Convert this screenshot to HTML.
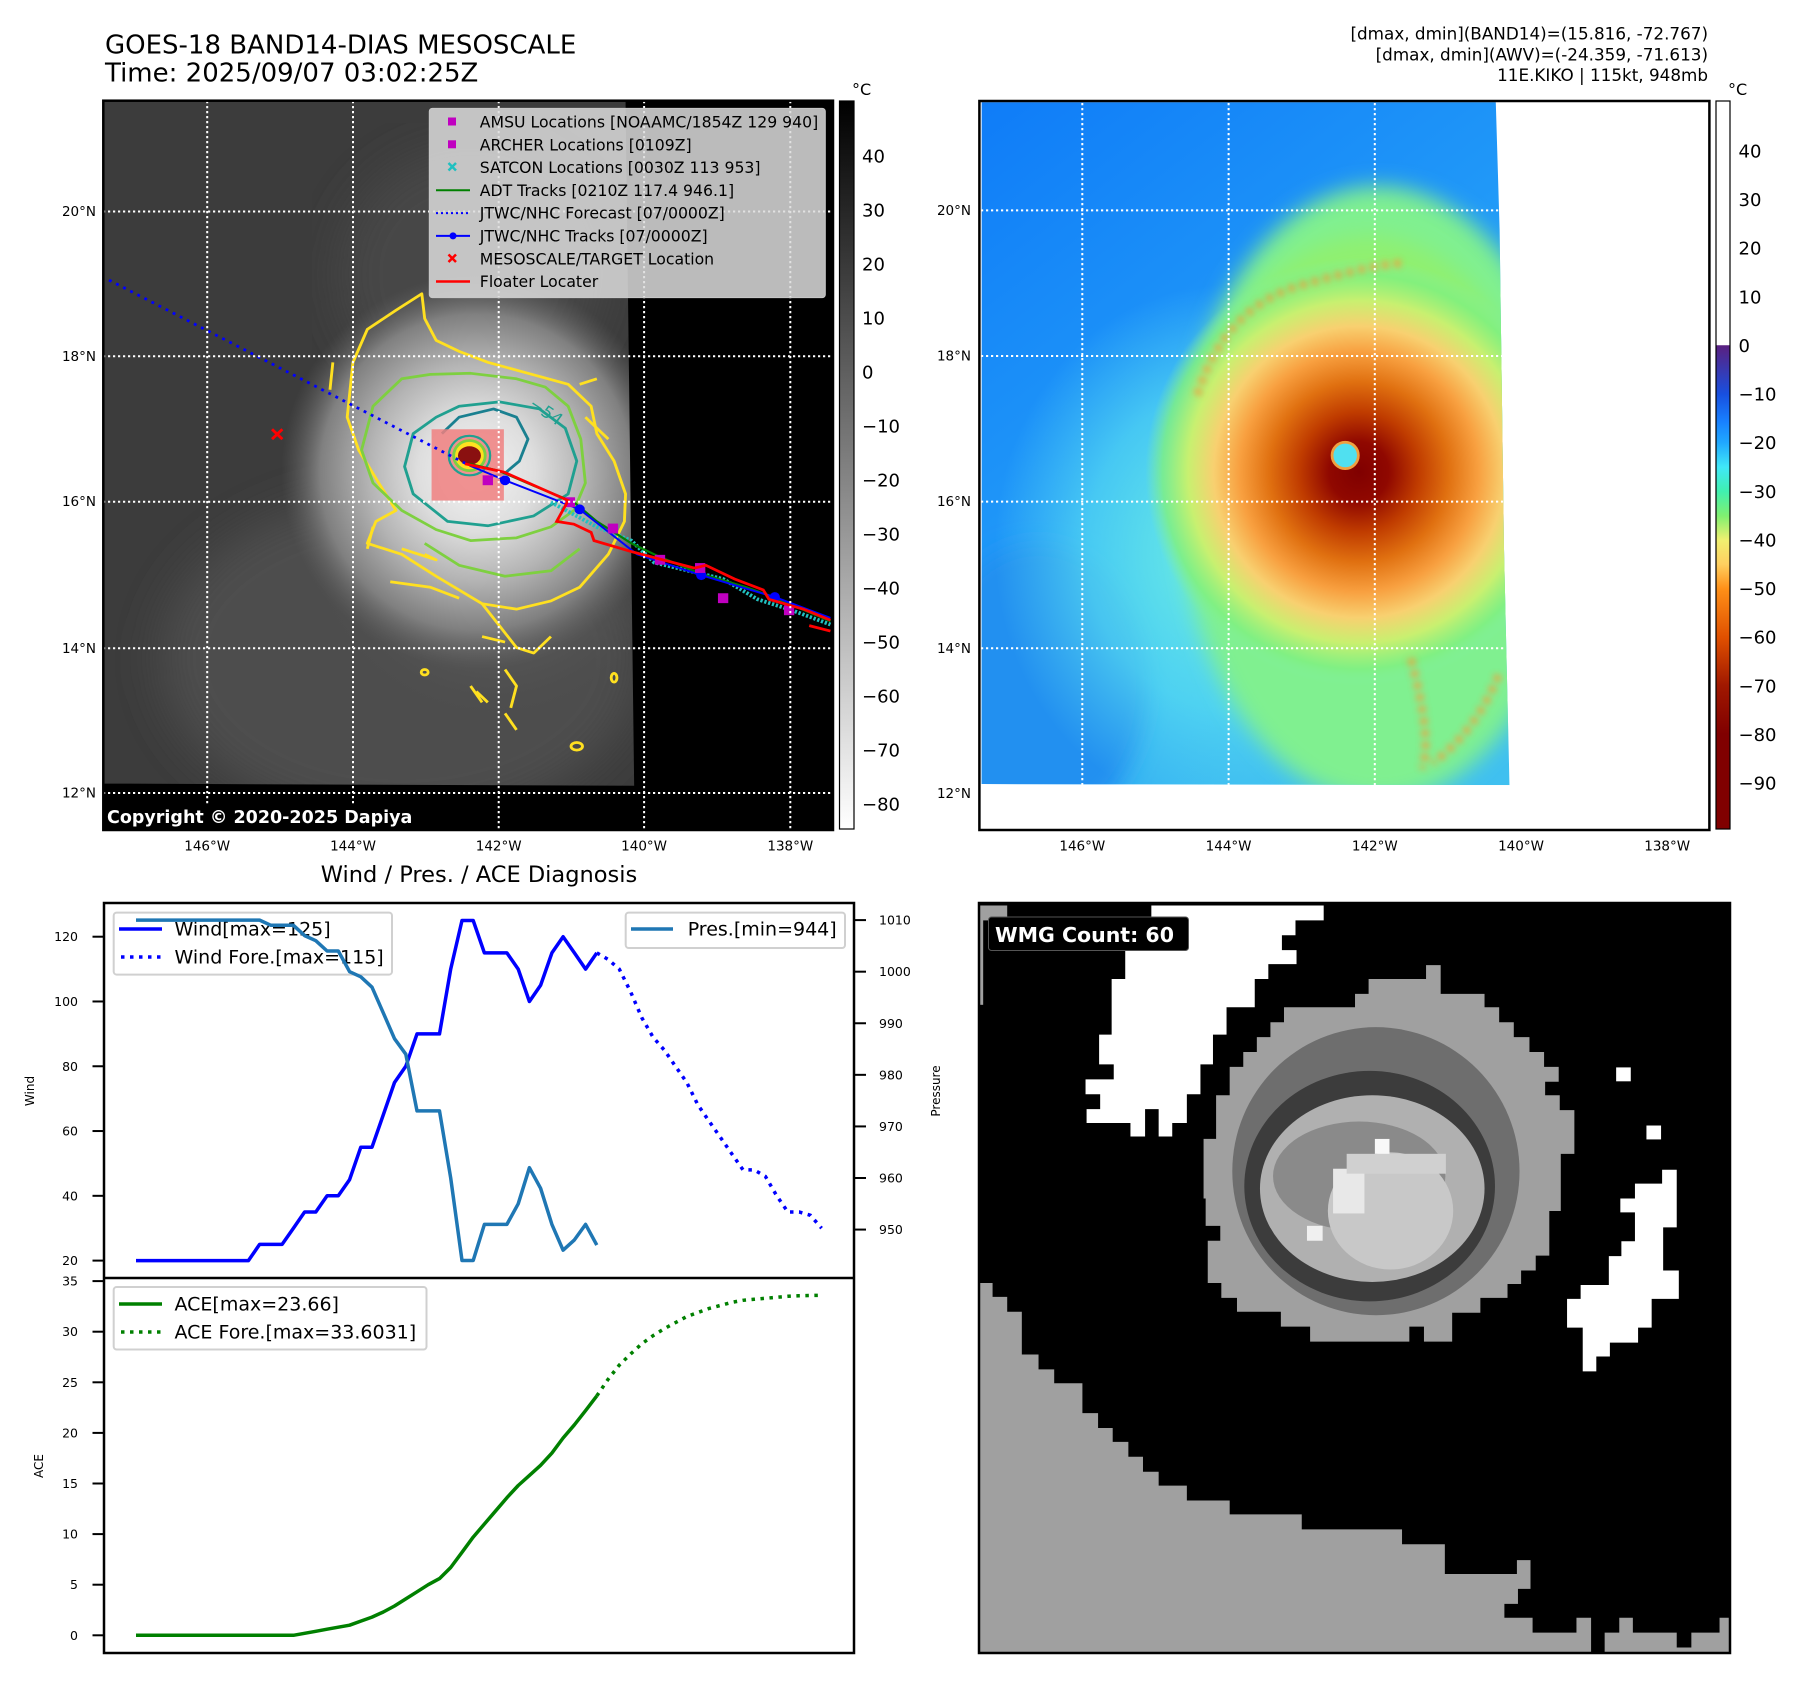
<!DOCTYPE html>
<html><head><meta charset="utf-8">
<style>
html,body{margin:0;padding:0;background:#fff;}
svg{display:block;font-family:"DejaVu Sans","Liberation Sans",sans-serif;}
</style></head>
<body>
<svg id="fig" width="1797" height="1690" viewBox="0 0 1797 1690" xmlns="http://www.w3.org/2000/svg">
<defs>
  <clipPath id="clip1"><rect x="180" y="183" width="1272" height="1329"/></clipPath>
  <clipPath id="clip2"><path d="M76,187 L1015,187 L1022,420 L1025,640 L1030,1000 L1040,1430 L76,1428 Z"/></clipPath>
  <radialGradient id="stormGray" cx="0.5" cy="0.5" r="0.5">
    <stop offset="0" stop-color="#f4f4f4"/>
    <stop offset="0.3" stop-color="#dedede"/>
    <stop offset="0.55" stop-color="#b4b4b4"/>
    <stop offset="0.8" stop-color="#808080"/>
    <stop offset="1" stop-color="#606060" stop-opacity="0"/>
  </radialGradient>
  <radialGradient id="stormGray2" cx="0.5" cy="0.5" r="0.5">
    <stop offset="0" stop-color="#7a7a7a"/>
    <stop offset="0.6" stop-color="#5e5e5e" stop-opacity="0.7"/>
    <stop offset="1" stop-color="#505050" stop-opacity="0"/>
  </radialGradient>
  <linearGradient id="cbGray" x1="0" y1="0" x2="0" y2="1">
    <stop offset="0" stop-color="#000"/>
    <stop offset="1" stop-color="#fff"/>
  </linearGradient>
  <linearGradient id="cbColor" x1="0" y1="0" x2="0" y2="1">
    <stop offset="0" stop-color="#ffffff"/>
    <stop offset="0.335" stop-color="#ffffff"/>
    <stop offset="0.336" stop-color="#5a2080"/>
    <stop offset="0.403" stop-color="#1850e0"/>
    <stop offset="0.44" stop-color="#1880ff"/>
    <stop offset="0.469" stop-color="#20a8ff"/>
    <stop offset="0.503" stop-color="#40e8f8"/>
    <stop offset="0.536" stop-color="#40f0b0"/>
    <stop offset="0.57" stop-color="#80f070"/>
    <stop offset="0.603" stop-color="#f0f070"/>
    <stop offset="0.636" stop-color="#ffd060"/>
    <stop offset="0.67" stop-color="#ff9018"/>
    <stop offset="0.737" stop-color="#e05000"/>
    <stop offset="0.803" stop-color="#a01800"/>
    <stop offset="0.87" stop-color="#800000"/>
    <stop offset="1" stop-color="#800000"/>
  </linearGradient>
  <linearGradient id="bgBlue" x1="0" y1="0" x2="0.6" y2="1">
    <stop offset="0" stop-color="#0f7cf8"/>
    <stop offset="0.5" stop-color="#2098f8"/>
    <stop offset="1" stop-color="#40c0f0"/>
  </linearGradient>
  <radialGradient id="cyanGlow" cx="0.5" cy="0.5" r="0.5">
    <stop offset="0" stop-color="#70f0e0"/>
    <stop offset="0.6" stop-color="#60e8f0" stop-opacity="0.6"/>
    <stop offset="1" stop-color="#60e0f0" stop-opacity="0"/>
  </radialGradient>
  <radialGradient id="stormColor" cx="0.5" cy="0.5" r="0.5">
    <stop offset="0" stop-color="#800000"/>
    <stop offset="0.14" stop-color="#900800"/>
    <stop offset="0.28" stop-color="#c03c00"/>
    <stop offset="0.42" stop-color="#e07010"/>
    <stop offset="0.56" stop-color="#f8a040"/>
    <stop offset="0.68" stop-color="#f8d070"/>
    <stop offset="0.8" stop-color="#c8f070"/>
    <stop offset="0.92" stop-color="#80f080" stop-opacity="0.8"/>
    <stop offset="1" stop-color="#80f0a0" stop-opacity="0"/>
  </radialGradient>
  <filter id="blur6"><feGaussianBlur stdDeviation="6"/></filter>
  <filter id="blur20"><feGaussianBlur stdDeviation="20"/></filter>
  <filter id="blur40"><feGaussianBlur stdDeviation="40"/></filter>
</defs>

<text x="105" y="53.5" font-size="26" fill="#000">GOES-18 BAND14-DIAS MESOSCALE</text>
<text x="105" y="81.5" font-size="26" fill="#000">Time: 2025/09/07 03:02:25Z</text>
<g font-size="16.8" text-anchor="end" fill="#000">
  <text x="1708" y="39.5">[dmax, dmin](BAND14)=(15.816, -72.767)</text>
  <text x="1708" y="60.5">[dmax, dmin](AWV)=(-24.359, -71.613)</text>
  <text x="1708" y="81">11E.KIKO | 115kt, 948mb</text>
</g>

<g>
  <g transform="translate(103.3,100.7) scale(0.5739,0.5485) translate(-180,-183)">
    <g clip-path="url(#clip1)">
      <rect x="180" y="183" width="1272" height="1329" fill="#3c3c3c"/>
      <ellipse cx="700" cy="1200" rx="420" ry="300" fill="#4e4e4e" filter="url(#blur40)"/>
      <ellipse cx="820" cy="500" rx="230" ry="230" fill="#474747" filter="url(#blur40)"/>
      <ellipse cx="860" cy="950" rx="330" ry="360" fill="url(#stormGray2)"/>
      <ellipse cx="830" cy="860" rx="340" ry="360" fill="url(#stormGray)"/>
      <path d="M1090,183 L1452,183 L1452,1512 L180,1512 L180,1428 L1105,1432 Z" fill="#000"/>
      <g fill="none" stroke-width="5" stroke-linejoin="round">
        <path d="M735,535 L690,565 L640,600 L615,660 L605,760 L625,820 L660,880 L690,930 L655,950 L640,990 L700,1010 L760,1050 L840,1100 L900,1110 L960,1095 L1010,1070 L1060,1010 L1088,950 L1090,900 L1070,840 L1040,790 L1030,740 L990,700 L920,680 L850,660 L800,640 L760,620 L740,580 Z" stroke="#ffe020"/>
        <path d="M840,1100 L870,1140 L900,1180 L930,1190 L960,1160 M880,1220 L900,1250 L890,1290 M830,1260 L850,1280 M1040,690 L1010,700 M1020,760 L1060,800 M580,660 L575,710 M650,960 L640,1000 M700,1000 L760,1020 L740,1010 M680,1060 L750,1070 L800,1090 M840,1160 L880,1170 M820,1250 L840,1280 M880,1300 L900,1330" stroke="#ffe020"/>
        <ellipse cx="1005" cy="1360" rx="10" ry="7" stroke="#ffe020"/>
        <ellipse cx="1070" cy="1235" rx="5" ry="8" stroke="#ffe020"/>
        <ellipse cx="740" cy="1225" rx="6" ry="5" stroke="#ffe020"/>
        <path d="M700,690 L650,740 L630,820 L650,880 L700,930 L760,965 L820,985 L900,980 L960,960 L1000,930 L1020,880 L1012,800 L990,740 L950,705 L900,690 L820,680 L750,682 Z" stroke="#7ed040"/>
        <path d="M740,990 L800,1030 L880,1050 L960,1040 L1010,1000" stroke="#7ed040"/>
        <path d="M720,790 L705,850 L720,900 L780,950 L850,958 L930,940 L990,900 L1005,840 L985,780 L940,745 L870,732 L800,740 L760,760 Z" stroke="#20a090"/>
        <path d="M770,790 L800,760 L860,745 L900,760 L920,800 L905,840 L880,862 L850,870" stroke="#1a8090"/>
      </g>
      <text x="920" y="740" font-size="30" fill="#20a090" transform="rotate(35 920 740)">−54</text>
      <rect x="752" y="782" width="126" height="130" fill="#f08080" opacity="0.85"/>
      <circle cx="818" cy="830" r="36" fill="none" stroke="#20a090" stroke-width="4"/>
      <circle cx="818" cy="830" r="30" fill="#7ed040"/>
      <circle cx="818" cy="830" r="25" fill="#ffe020"/>
      <ellipse cx="818" cy="830" rx="20" ry="17" fill="#8a1010"/>
      <path d="M190,510 L818,848" stroke="#0000ff" stroke-width="5" stroke-dasharray="5,9" fill="none"/>
      <g stroke="#ff0000" stroke-width="5"><path d="M474,782 L492,800 M492,782 L474,800"/></g>
      <path d="M960,915 L1040,960 L1100,985 L1140,1025 L1200,1040 L1260,1055 L1320,1092 L1380,1112 L1447,1138" fill="none" stroke="#20c0c0" stroke-width="7" stroke-dasharray="4,3"/>
      <path d="M818,845 L870,858 L930,885 L1000,915 L1040,950 L1100,990 L1150,1015 L1220,1045 L1300,1070 L1340,1085 L1447,1132" fill="none" stroke="#008000" stroke-width="4"/>
      <path d="M818,848 L880,875 L1010,928 L1110,1010 L1222,1048 L1350,1088 L1447,1126" fill="none" stroke="#0000ff" stroke-width="3.5"/>
      <g fill="#0000ff"><circle cx="880" cy="875" r="9"/><circle cx="1010" cy="928" r="9"/><circle cx="1222" cy="1048" r="9"/><circle cx="1350" cy="1088" r="9"/></g>
      <g fill="#c000c0"><rect x="841" y="866" width="18" height="18"/><rect x="984" y="906" width="18" height="18"/><rect x="1059" y="954" width="18" height="18"/><rect x="1141" y="1011" width="18" height="18"/><rect x="1211" y="1026" width="18" height="18"/><rect x="1251" y="1081" width="18" height="18"/><rect x="1366" y="1103" width="18" height="18"/></g>
      <path d="M810,845 L878,860 L990,912 L970,950 L1000,955 L1030,970 L1035,985 L1100,1005 L1210,1035 L1230,1030 L1280,1055 L1330,1075 L1340,1092 L1400,1110 L1447,1130 M1410,1140 L1447,1150" fill="none" stroke="#ff0000" stroke-width="5"/>
    </g>
  </g>
  <g stroke="#fff" stroke-width="2" stroke-dasharray="2.2,2.8">
    <line x1="207.2" y1="101" x2="207.2" y2="830"/><line x1="353" y1="101" x2="353" y2="830"/><line x1="498.7" y1="101" x2="498.7" y2="830"/><line x1="644.1" y1="101" x2="644.1" y2="830"/><line x1="790.3" y1="101" x2="790.3" y2="830"/>
    <line x1="103" y1="211.5" x2="833" y2="211.5"/><line x1="103" y1="356.3" x2="833" y2="356.3"/><line x1="103" y1="501.7" x2="833" y2="501.7"/><line x1="103" y1="648.2" x2="833" y2="648.2"/><line x1="103" y1="793" x2="833" y2="793"/>
  </g>
  <rect x="103" y="803.5" width="312" height="27" fill="#000"/>
  <text x="107" y="823" font-size="17.5" font-weight="bold" fill="#fff">Copyright © 2020-2025 Dapiya</text>
  <g>
    <rect x="429.3" y="108.4" width="396" height="189.2" rx="3" fill="#dcdcdc" fill-opacity="0.85" stroke="#c8c8c8"/>
    <g font-size="15.7" fill="#000">
      <rect x="448" y="117.5" width="8" height="8" fill="#c000c0"/><text x="479.8" y="127.5">AMSU Locations [NOAAMC/1854Z 129 940]</text>
      <rect x="448" y="140.3" width="8" height="8" fill="#c000c0"/><text x="479.8" y="150.3">ARCHER Locations [0109Z]</text>
      <g stroke="#20c0c0" stroke-width="2.5"><path d="M448.5,163 L456,170.5 M456,163 L448.5,170.5"/></g><text x="479.8" y="173.1">SATCON Locations [0030Z 113 953]</text>
      <line x1="436" y1="190.3" x2="470" y2="190.3" stroke="#008000" stroke-width="2"/><text x="479.8" y="195.9">ADT Tracks [0210Z 117.4 946.1]</text>
      <line x1="436" y1="213.1" x2="470" y2="213.1" stroke="#0000ff" stroke-width="2" stroke-dasharray="2,3"/><text x="479.8" y="218.7">JTWC/NHC Forecast [07/0000Z]</text>
      <line x1="436" y1="235.9" x2="470" y2="235.9" stroke="#0000ff" stroke-width="2"/><circle cx="453" cy="235.9" r="3.5" fill="#0000ff"/><text x="479.8" y="241.5">JTWC/NHC Tracks [07/0000Z]</text>
      <g stroke="#ff0000" stroke-width="2.5"><path d="M448.5,254.5 L456,262 M456,254.5 L448.5,262"/></g><text x="479.8" y="264.3">MESOSCALE/TARGET Location</text>
      <line x1="436" y1="281.5" x2="470" y2="281.5" stroke="#ff0000" stroke-width="2.5"/><text x="479.8" y="287.1">Floater Locater</text>
    </g>
  </g>
  <rect x="103.3" y="100.7" width="729.7" height="729.3" fill="none" stroke="#000" stroke-width="2.5"/>
  <g font-size="13.5" fill="#000" text-anchor="end">
    <text x="96" y="216">20°N</text><text x="96" y="361">18°N</text><text x="96" y="506">16°N</text><text x="96" y="653">14°N</text><text x="96" y="797.5">12°N</text>
  </g>
  <g font-size="13.5" fill="#000" text-anchor="middle">
    <text x="207.2" y="850.5">146°W</text><text x="353" y="850.5">144°W</text><text x="498.7" y="850.5">142°W</text><text x="644.1" y="850.5">140°W</text><text x="790.3" y="850.5">138°W</text>
  </g>
</g>

<g>
  <rect x="839.5" y="101" width="14.5" height="728" fill="url(#cbGray)" stroke="#000" stroke-width="1.2"/>
  <text x="852" y="95" font-size="16">°C</text>
  <g font-size="18" fill="#000" id="cb1labels"></g>
</g>

<g>
  <g transform="translate(979.4,101) scale(0.5476,0.5495) translate(-72,-185)">
    <rect x="72" y="185" width="1333" height="1327" fill="#fff"/>
    <g clip-path="url(#clip2)">
      <rect x="72" y="185" width="1000" height="1260" fill="url(#bgBlue)"/>
      <ellipse cx="180" cy="1250" rx="200" ry="260" fill="#2090f0" filter="url(#blur20)"/>
      <ellipse cx="520" cy="1000" rx="420" ry="480" fill="url(#cyanGlow)"/>
      <ellipse cx="800" cy="900" rx="360" ry="560" fill="#80f090" filter="url(#blur20)"/>
      <ellipse cx="780" cy="760" rx="280" ry="330" fill="#90f070" filter="url(#blur20)"/>
      <circle cx="765" cy="860" r="390" fill="url(#stormColor)"/>
      <g fill="none" stroke="#f0a040" stroke-width="14" stroke-dasharray="12,10" filter="url(#blur6)" opacity="0.85">
        <path d="M470,720 Q520,560 660,520 T850,480"/>
        <path d="M860,1200 Q900,1350 880,1400"/>
        <path d="M1020,1230 Q980,1330 900,1390"/>
      </g>
    </g>
    <circle cx="740" cy="830" r="24" fill="#50e0f0" stroke="#f0a040" stroke-width="5"/>
  </g>
  <g stroke="#fff" stroke-width="2" stroke-dasharray="2.2,2.8">
    <line x1="1082.3" y1="103" x2="1082.3" y2="785"/><line x1="1228.6" y1="103" x2="1228.6" y2="785"/><line x1="1374.8" y1="103" x2="1374.8" y2="785"/>
    <line x1="981" y1="210.4" x2="1502" y2="210.4"/><line x1="981" y1="356" x2="1502" y2="356"/><line x1="981" y1="501.6" x2="1503" y2="501.6"/><line x1="981" y1="648.3" x2="1506" y2="648.3"/>
  </g>
  <rect x="979.4" y="101" width="730" height="729" fill="none" stroke="#000" stroke-width="2.5"/>
  <g font-size="13.5" fill="#000" text-anchor="end">
    <text x="971" y="215">20°N</text><text x="971" y="360.5">18°N</text><text x="971" y="506">16°N</text><text x="971" y="652.8">14°N</text><text x="971" y="797.9">12°N</text>
  </g>
  <g font-size="13.5" fill="#000" text-anchor="middle">
    <text x="1082.3" y="850.5">146°W</text><text x="1228.6" y="850.5">144°W</text><text x="1374.8" y="850.5">142°W</text><text x="1521" y="850.5">140°W</text><text x="1667.2" y="850.5">138°W</text>
  </g>
</g>

<g>
  <rect x="1716" y="101" width="14" height="728" fill="url(#cbColor)" stroke="#000" stroke-width="1.2"/>
  <text x="1728" y="95" font-size="16">°C</text>
  <g font-size="18" fill="#000" id="cb2labels"></g>
</g>

<g id="chart">
  <text x="479" y="882" font-size="22.5" text-anchor="middle">Wind / Pres. / ACE Diagnosis</text>
  <g id="chartMarks"></g>
  <rect x="104" y="903" width="750" height="750" fill="none" stroke="#000" stroke-width="2.5"/>
  <line x1="104" y1="1278" x2="854" y2="1278" stroke="#000" stroke-width="2.5"/>
  <text transform="translate(34,1091) rotate(-90)" font-size="12" text-anchor="middle">Wind</text>
  <text transform="translate(940,1091) rotate(-90)" font-size="12" text-anchor="middle">Pressure</text>
  <text transform="translate(43,1466) rotate(-90)" font-size="12" text-anchor="middle">ACE</text>
</g>

<g>
  <svg x="979" y="903" width="751" height="750" viewBox="2 5 1438 1510" preserveAspectRatio="none">
    <rect x="2" y="5" width="1438" height="1510" fill="#000"/>
    <path fill="#fff" d="M332,10 L662,10 L662,40 L608,40 L608,70 L582,70 L582,100 L610,100 L610,128 L556,128 L556,158 L530,158 L530,215 L476,215 L476,270 L450,270 L450,330 L426,330 L426,390 L400,390 L400,448 L372,448 L372,475 L346,475 L346,420 L320,420 L320,475 L292,475 L292,448 L208,448 L208,420 L234,420 L234,390 L206,390 L206,360 L260,360 L260,330 L232,330 L232,270 L256,270 L256,158 L282,158 L282,100 L332,100 Z"/>
    <path fill="#a0a0a0" d="M2,770 L28,770 L28,798 L56,798 L56,828 L84,828 L84,914 L116,914 L116,944 L146,944 L146,972 L200,972 L200,1032 L230,1032 L230,1062 L258,1062 L258,1090 L288,1090 L288,1120 L316,1120 L316,1150 L346,1150 L346,1178 L400,1178 L400,1208 L482,1208 L482,1236 L620,1236 L620,1266 L812,1266 L812,1296 L894,1296 L894,1356 L1032,1356 L1032,1328 L1058,1328 L1058,1386 L1034,1386 L1034,1416 L1008,1416 L1008,1444 L1062,1444 L1062,1474 L1146,1474 L1146,1444 L1174,1444 L1174,1515 L1200,1515 L1200,1474 L1228,1474 L1228,1444 L1254,1444 L1254,1474 L1338,1474 L1338,1504 L1366,1504 L1366,1474 L1420,1474 L1420,1444 L1440,1444 L1440,1515 L2,1515 Z"/>
    <rect x="2" y="10" width="54" height="30" fill="#a0a0a0"/>
    <rect x="2" y="10" width="8" height="200" fill="#a0a0a0"/>
    <path fill="#a0a0a0" d="M748,158 L858,158 L858,130 L886,130 L886,188 L970,188 L970,215 L998,215 L998,245 L1026,245 L1026,275 L1056,275 L1056,305 L1084,305 L1084,335 L1112,335 L1112,365 L1086,365 L1086,392 L1114,392 L1114,422 L1142,422 L1142,510 L1116,510 L1116,625 L1094,625 L1094,715 L1068,715 L1068,745 L1040,745 L1040,772 L1014,772 L1014,800 L962,800 L962,830 L908,830 L908,888 L854,888 L854,858 L826,858 L826,888 L636,888 L636,858 L580,858 L580,828 L496,828 L496,800 L466,800 L466,770 L440,770 L440,685 L464,685 L464,655 L436,655 L436,600 L432,600 L432,480 L456,480 L456,392 L482,392 L482,335 L508,335 L508,305 L534,305 L534,275 L560,275 L560,245 L586,245 L586,215 L722,215 L722,188 L748,188 Z"/>
    <ellipse cx="762" cy="545" rx="275" ry="290" fill="#6e6e6e"/>
    <ellipse cx="750" cy="575" rx="240" ry="232" fill="#3c3c3c"/>
    <ellipse cx="755" cy="580" rx="215" ry="188" fill="#b0b0b0"/>
    <ellipse cx="730" cy="555" rx="165" ry="110" fill="#8a8a8a"/>
    <ellipse cx="790" cy="625" rx="120" ry="118" fill="#c8c8c8"/>
    <rect x="680" y="540" width="60" height="90" fill="#e8e8e8"/>
    <rect x="706" y="510" width="190" height="40" fill="#d0d0d0"/>
    <rect x="760" y="480" width="28" height="30" fill="#f8f8f8"/>
    <rect x="630" y="655" width="30" height="30" fill="#f0f0f0"/>
    <rect x="1222" y="336" width="28" height="28" fill="#fff"/>
    <rect x="1280" y="453" width="28" height="28" fill="#fff"/>
    <path fill="#fff" d="M1310,542 L1338,542 L1338,658 L1312,658 L1312,745 L1342,745 L1342,802 L1290,802 L1290,860 L1264,860 L1264,890 L1210,890 L1210,918 L1184,918 L1184,948 L1158,948 L1158,860 L1128,860 L1128,802 L1154,802 L1154,774 L1208,774 L1208,716 L1232,716 L1232,686 L1258,686 L1258,628 L1230,628 L1230,600 L1258,600 L1258,570 L1310,570 Z"/>
  </svg>
  <rect x="979" y="903" width="751" height="750" fill="none" stroke="#000" stroke-width="2.5"/>
  <rect x="988.5" y="917" width="200" height="33.5" rx="3" fill="#000" stroke="#555" stroke-width="1"/>
  <text x="995" y="942" font-size="20.5" font-weight="bold" fill="#fff">WMG Count: 60</text>
</g>
</svg>

<script>
const windObs = [20,20,20,20,20,20,20,20,20,20,20,25,25,25,30,35,35,40,40,45,55,55,65,75,80,90,90,90,110,125,125,115,115,115,110,100,105,115,120,115,110,115];
const windFc  = [115,113,110,103,95,89,85,80,75,68,63,58,53,48,48,46,40,35,35,34,30];
const presObs = [1010,1010,1010,1010,1010,1010,1010,1010,1010,1010,1010,1010,1009,1009,1009,1007,1006,1004,1004,1000,999,997,992,987,984,973,973,973,960,944,944,951,951,951,955,962,958,951,946,948,951,947];
const aceObs  = [0,0,0,0,0,0,0,0,0,0,0,0,0,0,0,0.2,0.4,0.6,0.8,1.0,1.4,1.8,2.3,2.9,3.6,4.3,5.0,5.6,6.7,8.2,9.7,11.0,12.3,13.6,14.8,15.8,16.8,18.0,19.5,20.8,22.2,23.66];
const aceFc   = [23.66,25.3,26.7,27.8,28.8,29.6,30.3,30.9,31.5,31.9,32.3,32.6,32.9,33.1,33.2,33.3,33.4,33.5,33.55,33.58,33.6];
const windTicks = [20,40,60,80,100,120];
const presTicks = [950,960,970,980,990,1000,1010];
const aceTicks  = [0,5,10,15,20,25,30,35];
const cb1Ticks = [40,30,20,10,0,-10,-20,-30,-40,-50,-60,-70,-80];
const cb2Ticks = [40,30,20,10,0,-10,-20,-30,-40,-50,-60,-70,-80,-90];

function xT(i){ return 136 + i*11.24; }
function yWind(v){ return 936.7 + (120 - v)*3.239; }
function yPres(p){ return 920.1 + (1010 - p)*5.158; }
function yAce(a){ return 1635.3 - a*10.12; }
function yCb1(v){ return 156 + (40 - v)*5.4; }
function yCb2(v){ return 151 + (40 - v)*4.862; }

const NS = 'http://www.w3.org/2000/svg';
function mk(tag, attrs, parent){
  const e = document.createElementNS(NS, tag);
  for (const k in attrs) e.setAttribute(k, attrs[k]);
  parent.appendChild(e);
  return e;
}
function pathD(vals, off, yf){
  return vals.map((v,i)=>(i?'L':'M')+xT(i+off).toFixed(1)+','+yf(v).toFixed(1)).join(' ');
}
const marks = document.getElementById('chartMarks');

windTicks.forEach(v=>{
  const l = mk('line',{x1:92.5,x2:104,y1:yWind(v),y2:yWind(v),stroke:'#000','stroke-width':2},marks);
  
  
  const t = mk('text',{x:78,y:yWind(v)+4.5,'font-size':12.5,'text-anchor':'end'},marks);
  t.textContent = v;
  
  
});
presTicks.forEach(v=>{
  const l = mk('line',{x1:854,x2:866,y1:yPres(v),y2:yPres(v),stroke:'#000','stroke-width':2},marks);
  
  
  const t = mk('text',{x:879,y:yPres(v)+4.5,'font-size':12.5},marks);
  t.textContent = v;
  
  
});
aceTicks.forEach(v=>{
  const l = mk('line',{x1:92.5,x2:104,y1:yAce(v),y2:yAce(v),stroke:'#000','stroke-width':2},marks);
  
  
  const t = mk('text',{x:78,y:yAce(v)+4.5,'font-size':12.5,'text-anchor':'end'},marks);
  t.textContent = v;
  
  
});

let p = mk('path',{d:pathD(windObs,0,yWind),fill:'none',stroke:'#0000ff','stroke-width':3.5,'stroke-linejoin':'round'},marks);


p = mk('path',{d:pathD(windFc,windObs.length-1,yWind),fill:'none',stroke:'#0000ff','stroke-width':3.5,'stroke-dasharray':'3.5,5.5'},marks);



let g = mk('g',{},marks);


mk('rect',{x:113.7,y:912.6,width:278.3,height:62,rx:3,fill:'#fff','fill-opacity':0.8,stroke:'#d0d0d0','stroke-width':2},g);
mk('line',{x1:119,x2:162,y1:929,y2:929,stroke:'#0000ff','stroke-width':3.5},g);
mk('line',{x1:121,x2:162,y1:957,y2:957,stroke:'#0000ff','stroke-width':3.5,'stroke-dasharray':'3.5,5.5'},g);
let t = mk('text',{x:174.5,y:935.5,'font-size':19},g); t.textContent='Wind[max=125]';
t = mk('text',{x:174.5,y:963.5,'font-size':19},g); t.textContent='Wind Fore.[max=115]';

p = mk('path',{d:pathD(presObs,0,yPres),fill:'none',stroke:'#1f77b4','stroke-width':3.5,'stroke-linejoin':'round'},marks);


g = mk('g',{},marks);


mk('rect',{x:625.7,y:912.6,width:219.3,height:35.4,rx:3,fill:'#fff','fill-opacity':0.8,stroke:'#d0d0d0','stroke-width':2},g);
mk('line',{x1:631,x2:673,y1:929,y2:929,stroke:'#1f77b4','stroke-width':3.5},g);
t = mk('text',{x:687.7,y:935.5,'font-size':19},g); t.textContent='Pres.[min=944]';

p = mk('path',{d:pathD(aceObs,0,yAce),fill:'none',stroke:'#008000','stroke-width':3.5,'stroke-linejoin':'round'},marks);


p = mk('path',{d:pathD(aceFc,aceObs.length-1,yAce),fill:'none',stroke:'#008000','stroke-width':3.5,'stroke-dasharray':'3.5,5.5'},marks);


g = mk('g',{},marks);


mk('rect',{x:113.7,y:1287,width:312.8,height:62.5,rx:3,fill:'#fff','fill-opacity':0.8,stroke:'#d0d0d0','stroke-width':2},g);
mk('line',{x1:119,x2:162,y1:1304,y2:1304,stroke:'#008000','stroke-width':3.5},g);
mk('line',{x1:121,x2:162,y1:1332,y2:1332,stroke:'#008000','stroke-width':3.5,'stroke-dasharray':'3.5,5.5'},g);
t = mk('text',{x:174.5,y:1310.5,'font-size':19},g); t.textContent='ACE[max=23.66]';
t = mk('text',{x:174.5,y:1338.5,'font-size':19},g); t.textContent='ACE Fore.[max=33.6031]';

const cb1 = document.getElementById('cb1labels');
cb1Ticks.forEach(v=>{
  const e = mk('text',{x:862,y:yCb1(v)+6.5},cb1);
  e.textContent = v<0 ? '\u2212'+(-v) : String(v);
  
  
});
const cb2 = document.getElementById('cb2labels');
cb2Ticks.forEach(v=>{
  const e = mk('text',{x:1738.5,y:yCb2(v)+6.5},cb2);
  e.textContent = v<0 ? '\u2212'+(-v) : String(v);
  
  
});
</script>
</body></html>
